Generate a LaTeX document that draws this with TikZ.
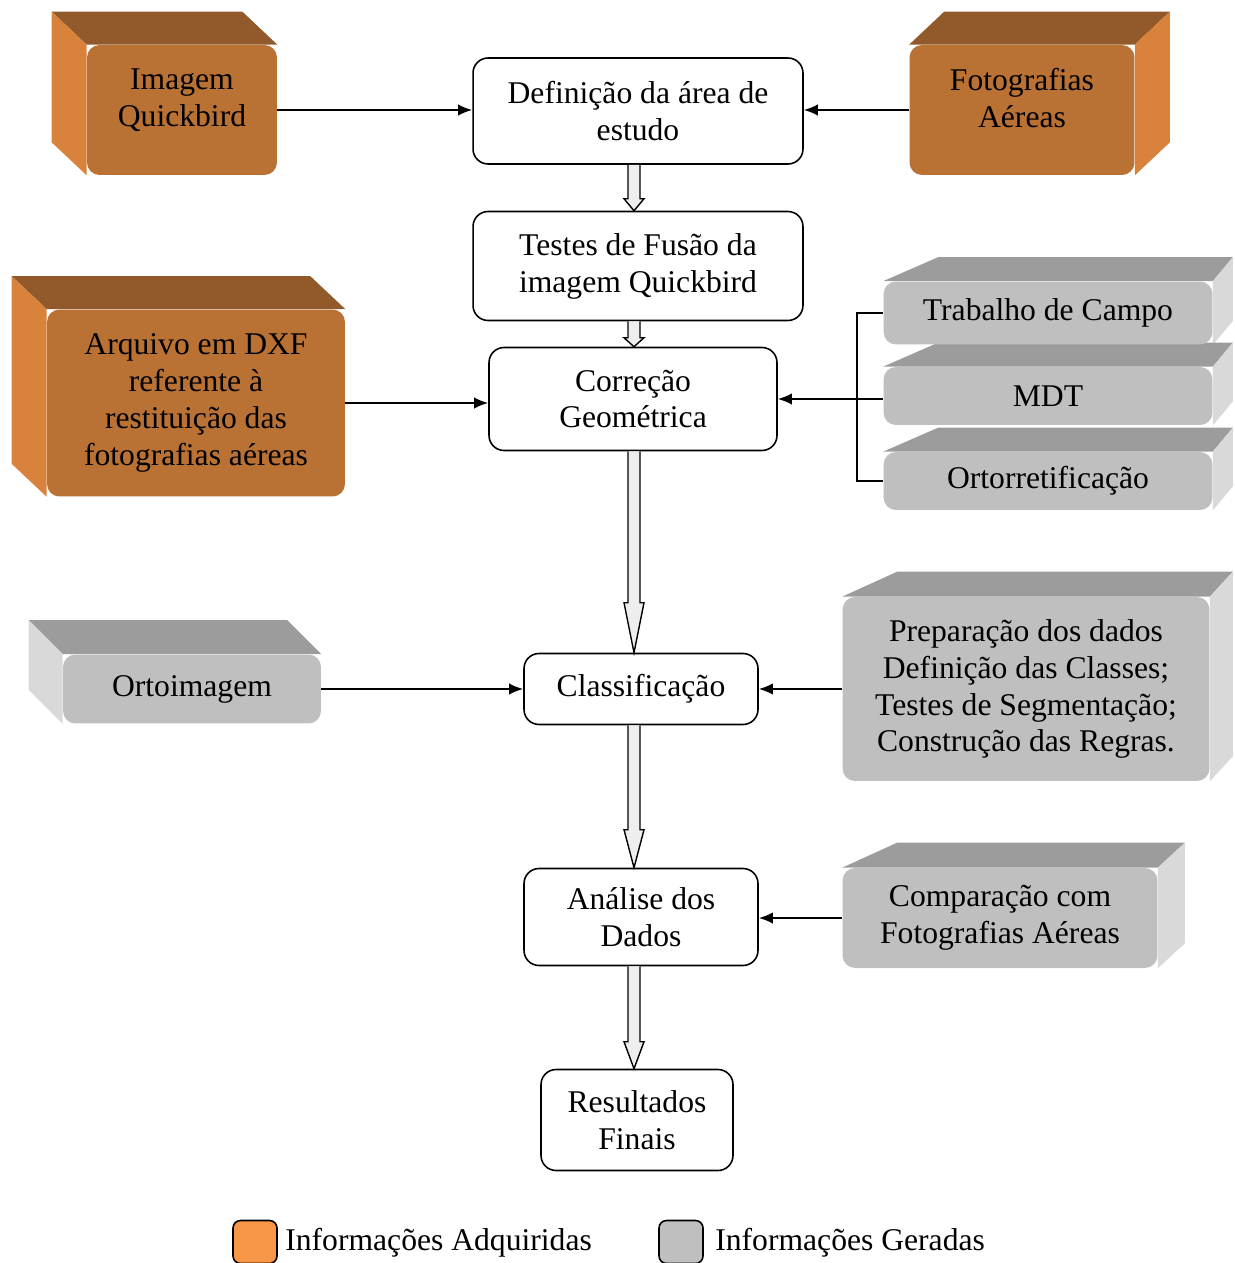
\documentclass[tikz,border=0pt]{standalone}
\usepackage{fontspec}
\setmainfont{Liberation Serif}
\usepackage{xcolor}
\usepackage{tikz}
\usetikzlibrary{calc, positioning, backgrounds, arrows.meta}

\definecolor{laranjafrente}{HTML}{BA7134}
\definecolor{laranjatopo}{HTML}{925A2B}
\definecolor{laranjalado}{HTML}{D8823C}
\definecolor{laranjaleg}{HTML}{F79646}
\definecolor{cinzafrente}{HTML}{BFBFBF}
\definecolor{cinzatopo}{HTML}{9C9C9C}
\definecolor{cinzalado}{HTML}{D9D9D9}
\definecolor{cinzaseta}{HTML}{EEEEEE}

% volume 3D para a esquerda
\newcommand{\volumeesq}[5]{%
  \fill[#4] (#1.north west) -- ++(#2,#3) -- ($(#1.north east)+(#2,#3)$) -- (#1.north east) -- cycle;
  \fill[#5] (#1.north west) -- ++(#2,#3) -- ($(#1.south west)+(#2,#3)$) -- (#1.south west) -- cycle;}
% volume 3D para a direita
\newcommand{\volumedir}[6]{%
  \fill[#5] (#1.north west) -- ++(#2,#4) -- ($(#1.north east)+(#3,#4)$) -- (#1.north east) -- cycle;
  \fill[#6] (#1.north east) -- ++(#3,#4) -- ($(#1.south east)+(#3,#4)$) -- (#1.south east) -- cycle;}
% seta vazada entre caixas
\newcommand{\setaoca}[3]{%
  \draw[line width=0.8pt, fill=cinzaseta, line join=miter]
    ($(eixo |- #1.south)+(-6,0)$) -- ($(eixo |- #2.north)+(-6,-#3)$) -- ++(-4,0)
    -- (eixo |- #2.north) -- ($(eixo |- #2.north)+(10,-#3)$) -- ++(-4,0)
    -- ($(eixo |- #1.south)+(6,0)$);}

\begin{document}
\begin{tikzpicture}[x=0.02cm, y=-0.02cm, >={Latex[length=8pt,width=6.5pt]},
    font=\fontsize{18}{21}\selectfont,
    branco/.style={draw, line width=0.9pt, fill=white, rounded corners=0.3cm, align=center, inner sep=0pt},
    laranja/.style={fill=laranjafrente, rounded corners=0.25cm, align=center, inner sep=0pt},
    cinza/.style={fill=cinzafrente, rounded corners=0.25cm, align=center, inner sep=0pt},
    liga/.style={->, line width=1.1pt}]
    \useasboundingbox (0,0) rectangle (1234,1263);
    \coordinate (eixo) at (634,0);

    % Caixas centrais
    \node[branco, minimum width=6.6cm, minimum height=2.12cm] (def) at (638,111) {Definição da área de\\estudo};
    \node[branco, minimum width=6.6cm, minimum height=2.18cm] (fus) at (638,266) {Testes de Fusão da\\imagem Quickbird};
    \node[branco, minimum width=5.76cm, minimum height=2.06cm] (cor) at (633,399) {Correção\\Geométrica};
    \node[branco, minimum width=4.68cm, minimum height=1.42cm] (cla) at (641,689) {Classificação};
    \node[branco, minimum width=4.68cm, minimum height=1.94cm] (ana) at (641,917) {Análise dos\\Dados};
    \node[branco, minimum width=3.84cm, minimum height=2.02cm] (res) at (637,1120) {Resultados\\Finais};

    % Informações adquiridas
    \node[laranja, minimum width=3.8cm, minimum height=2.6cm] (img) at (182,110) {Imagem\\Quickbird\\[-7pt]};
    \node[laranja, minimum width=4.5cm, minimum height=2.6cm] (foto) at (1022,110) {Fotografias\\Aéreas\\[-7pt]};
    \node[laranja, minimum width=5.96cm, minimum height=3.74cm] (dxf) at (196,403) {Arquivo em DXF\\referente à\\restituição das\\fotografias aéreas};

    % Informações geradas
    \node[cinza, minimum width=6.58cm, minimum height=1.26cm] (trab) at (1048,313) {Trabalho de Campo};
    \node[cinza, minimum width=6.58cm, minimum height=1.16cm] (mdt) at (1048,396) {MDT};
    \node[cinza, minimum width=6.58cm, minimum height=1.16cm] (orto) at (1048,481) {Ortorretificação};
    \node[cinza, minimum width=5.16cm, minimum height=1.38cm] (ortoimg) at (192,689) {Ortoimagem};
    \node[cinza, minimum width=7.34cm, minimum height=3.68cm] (prep) at (1026,689) {Preparação dos dados\\Definição das Classes;\\Testes de Segmentação;\\Construção das Regras.};
    \node[cinza, minimum width=6.3cm, minimum height=2cm] (comp) at (1000,918) {Comparação com\\Fotografias Aéreas};

    % Volumes 3D
    \begin{scope}[on background layer]
        \volumeesq{img}{-35}{-33}{laranjatopo}{laranjalado}
        \volumedir{foto}{35}{35}{-33}{laranjatopo}{laranjalado}
        \volumeesq{dxf}{-35}{-33}{laranjatopo}{laranjalado}
        \volumedir{trab}{55}{20}{-24}{cinzatopo}{cinzalado}
        \volumedir{mdt}{55}{20}{-24}{cinzatopo}{cinzalado}
        \volumedir{orto}{55}{20}{-24}{cinzatopo}{cinzalado}
        \volumeesq{ortoimg}{-34}{-34}{cinzatopo}{cinzalado}
        \volumedir{prep}{55}{23}{-25}{cinzatopo}{cinzalado}
        \volumedir{comp}{55}{27}{-25}{cinzatopo}{cinzalado}
    \end{scope}

    % Setas vazadas
    \setaoca{def}{fus}{12}
    \setaoca{fus}{cor}{9}
    \setaoca{cor}{cla}{50}
    \setaoca{cla}{ana}{38}
    \setaoca{ana}{res}{27}

    % Ligações
    \draw[liga] (img.east) -- (img.east -| def.west);
    \draw[liga] (foto.west) -- (foto.west -| def.east);
    \draw[liga] (dxf.east) -- (dxf.east -| cor.west);
    \draw[line width=1.1pt] (trab.west) -- ++(-26,0) |- (orto.west);
    \draw[liga] (mdt.west |- cor.east) -- (cor.east);
    \draw[liga] (ortoimg.east) -- (ortoimg.east -| cla.west);
    \draw[liga] (prep.west) -- (cla.east);
    \draw[liga] (comp.west) -- (comp.west -| ana.east);

    % Legenda
    \node[draw, line width=0.9pt, fill=laranjaleg, rounded corners=0.15cm, minimum width=0.88cm, minimum height=0.86cm] (legA) at (255,1242) {};
    \node[anchor=west, inner sep=0pt] (txtA) at (285,1243) {Informações Adquiridas};
    \node[draw, line width=0.9pt, fill=cinzafrente, rounded corners=0.15cm, minimum width=0.88cm, minimum height=0.86cm] (legG) at (681,1242) {};
    \node[anchor=west, inner sep=0pt] (txtG) at (715,1243) {Informações Geradas};
\end{tikzpicture}
\end{document}
